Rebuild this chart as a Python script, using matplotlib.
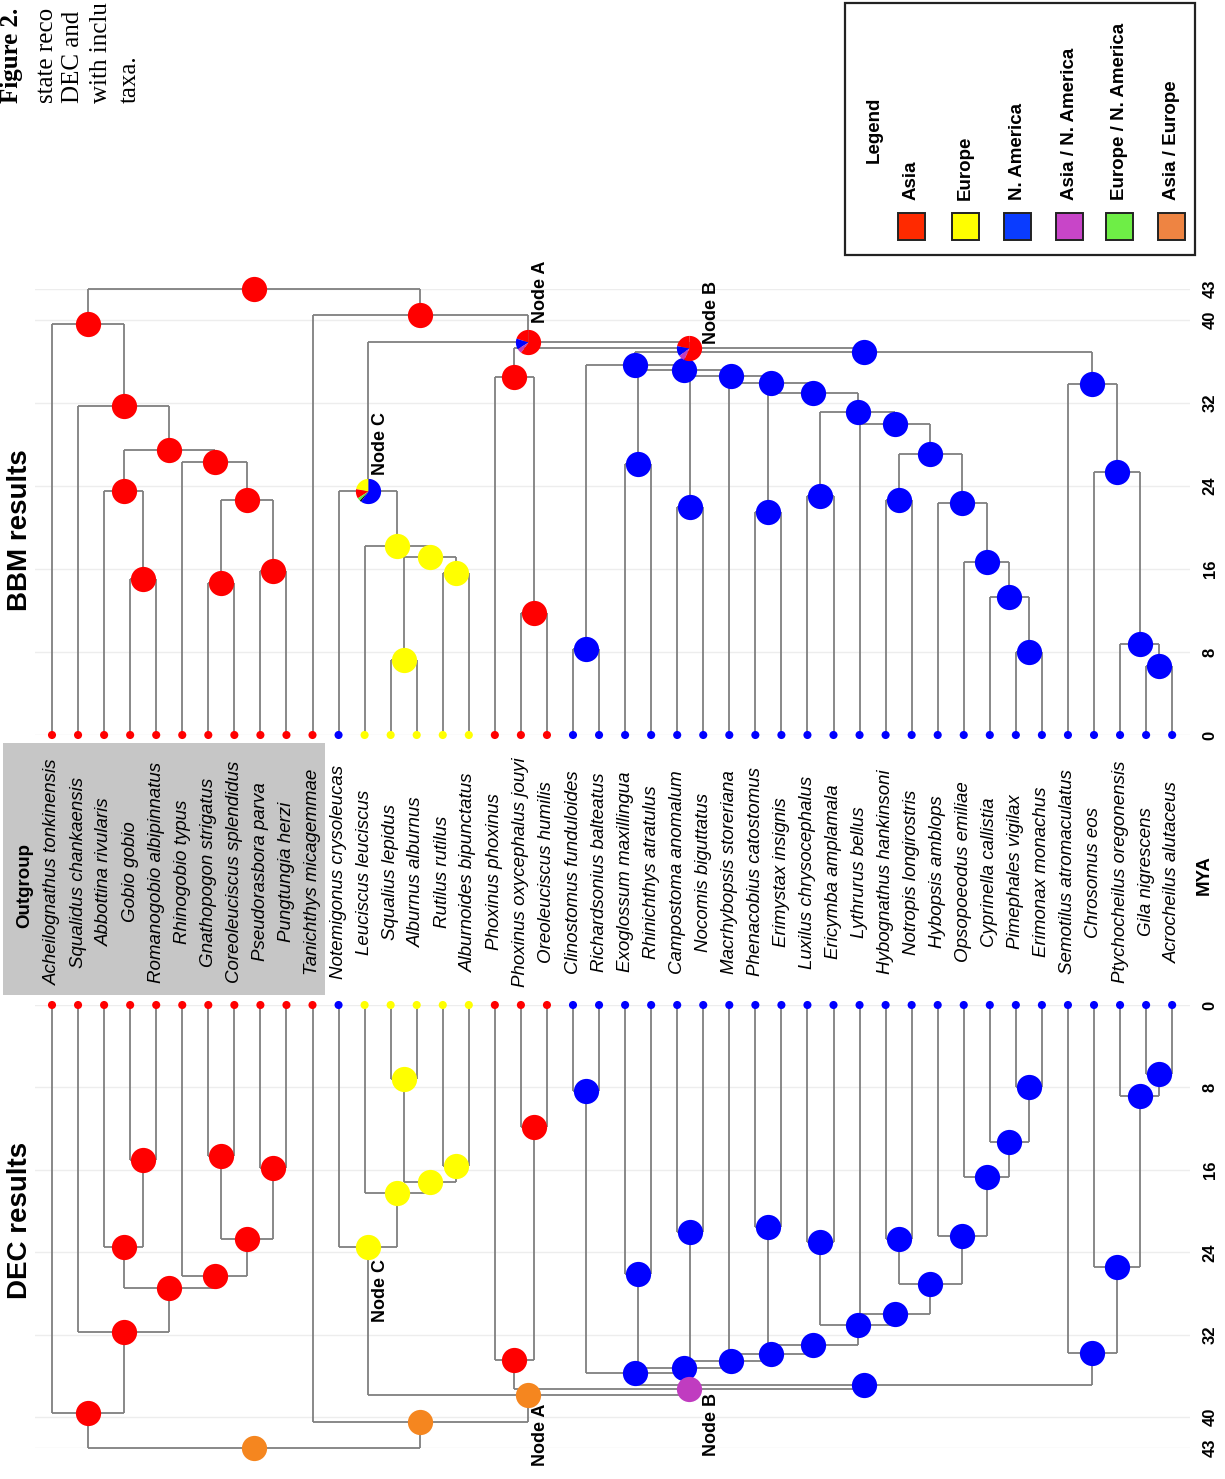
import matplotlib
matplotlib.use('Agg')
import matplotlib.pyplot as plt
import matplotlib.transforms as mtransforms
from matplotlib.patches import Rectangle
import numpy as np

W, H = 1225, 1479
TIP0 = 52        # px of the first tip
TIP_STEP = 26.05  # px between neighbouring tips

taxa = ['Acheilognathus tonkinensis', 'Squalidus chankaensis', 'Abbottina rivularis',
        'Gobio gobio', 'Romanogobio albipinnatus', 'Rhinogobio typus',
        'Gnathopogon strigatus', 'Coreoleuciscus splendidus', 'Pseudorasbora parva',
        'Pungtungia herzi', 'Tanichthys micagemmae', 'Notemigonus crysoleucas',
        'Leuciscus leuciscus', 'Squalius lepidus', 'Alburnus alburnus', 'Rutilus rutilus',
        'Alburnoides bipunctatus', 'Phoxinus phoxinus', 'Phoxinus oxycephalus jouyi',
        'Oreoleuciscus humilis', 'Clinostomus funduloides', 'Richardsonius balteatus',
        'Exoglossum maxillingua', 'Rhinichthys atratulus', 'Campostoma anomalum',
        'Nocomis biguttatus', 'Macrhybopsis storeriana', 'Phenacobius catostomus',
        'Erimystax insignis', 'Luxilus chrysocephalus', 'Ericymba amplamala',
        'Lythrurus bellus', 'Hybognathus hankinsoni', 'Notropis longirostris',
        'Hybopsis amblops', 'Opsopoeodus emiliae', 'Cyprinella callistia',
        'Pimephales vigilax', 'Erimonax monachus', 'Semotilus atromaculatus',
        'Chrosomus eos', 'Ptychocheilus oregonensis', 'Gila nigrescens',
        'Acrocheilus alutaceus']
tip_area = ['A'] * 11 + ['N'] + ['E'] * 5 + ['A'] * 3 + ['N'] * 24

# internal nodes (name, left child, right child); ints are tip indices
tree = [
    ('gob', 3, 4), ('abb', 2, 'gob'), ('gna', 6, 7), ('pse', 8, 9),
    ('gp', 'gna', 'pse'), ('rhi', 5, 'gp'), ('gobio', 'abb', 'rhi'),
    ('squ', 1, 'gobio'), ('out', 0, 'squ'),
    ('sa', 13, 14), ('ra', 15, 16), ('sr', 'sa', 'ra'), ('leu', 12, 'sr'),
    ('C', 11, 'leu'),
    ('oreo', 18, 19), ('phox', 17, 'oreo'),
    ('clin', 20, 21), ('exo', 22, 23), ('camp', 24, 25), ('phen', 27, 28),
    ('lux', 29, 30), ('hyb', 32, 33), ('pim', 37, 38), ('cyp', 36, 'pim'),
    ('ops', 35, 'cyp'), ('hbp', 34, 'ops'), ('hh', 'hyb', 'hbp'), ('lyt', 31, 'hh'),
    ('lx', 'lux', 'lyt'), ('ph2', 'phen', 'lx'), ('mac', 26, 'ph2'),
    ('cm', 'camp', 'mac'), ('ex2', 'exo', 'cm'), ('cl2', 'clin', 'ex2'),
    ('ga', 42, 43), ('pty', 41, 'ga'), ('chr', 40, 'pty'), ('sem', 39, 'chr'),
    ('na', 'cl2', 'sem'), ('B', 'phox', 'na'), ('A', 'C', 'B'),
    ('tan', 10, 'A'), ('root', 'out', 'tan'),
]

node_age = {
    'gob': 15.0, 'abb': 23.5, 'gna': 14.7, 'pse': 15.8, 'gp': 22.7, 'rhi': 26.3,
    'gobio': 27.5, 'squ': 31.7, 'out': 39.6,
    'sa': 7.2, 'ra': 15.6, 'sr': 17.2, 'leu': 18.2, 'C': 23.5,
    'oreo': 11.8, 'phox': 34.5,
    'clin': 8.3, 'exo': 26.1, 'camp': 22.0, 'phen': 21.5, 'lux': 23.0, 'hyb': 22.7,
    'pim': 8.0, 'cyp': 13.3, 'ops': 16.7, 'hbp': 22.4, 'hh': 27.1, 'lyt': 30.0,
    'lx': 31.1, 'ph2': 33.0, 'mac': 33.9, 'cm': 34.6, 'ex2': 35.2, 'cl2': 35.7,
    'ga': 6.7, 'pty': 8.8, 'chr': 25.4, 'sem': 33.8,
    'na': 36.9, 'B': 37.3, 'A': 37.9, 'tan': 40.5, 'root': 43.0,
}

outgroup_nodes = ['gob', 'abb', 'gna', 'pse', 'gp', 'rhi', 'gobio', 'squ', 'out']
europe_nodes = ['sa', 'ra', 'sr', 'leu']
phoxinus_nodes = ['oreo', 'phox']
america_nodes = ['clin', 'exo', 'camp', 'phen', 'lux', 'hyb', 'pim', 'cyp', 'ops', 'hbp',
                 'hh', 'lyt', 'lx', 'ph2', 'mac', 'cm', 'ex2', 'cl2', 'ga', 'pty', 'chr',
                 'sem', 'na']

bbm_area = {n: 'A' for n in outgroup_nodes + phoxinus_nodes + ['tan', 'root']}
bbm_area.update({n: 'E' for n in europe_nodes})
bbm_area.update({n: 'N' for n in america_nodes})

# mixed probabilities at the three labelled BBM nodes
bbm_pies = {
    'A': [('A', 0.20), ('N', 0.14), ('AN', 0.06), ('A', 0.60)],
    'B': [('A', 0.22), ('N', 0.13), ('AN', 0.08), ('A', 0.57)],
    'C': [('E', 0.22), ('A', 0.12), ('EN', 0.04), ('X', 0.02), ('N', 0.60)],
}

dec_area = {n: 'A' for n in outgroup_nodes + phoxinus_nodes}
dec_area.update({n: 'E' for n in europe_nodes + ['C']})
dec_area.update({n: 'N' for n in america_nodes})
dec_area.update({'A': 'AE', 'tan': 'AE', 'root': 'AE', 'B': 'AN'})

area_colour = {'A': '#FF0000', 'E': '#FFFF00', 'N': '#0000FF', 'AN': '#C03CC0',
               'EN': '#66EE44', 'AE': '#F5861F', 'X': '#000000'}

legend_labels = ['Asia', 'Europe', 'N. America', 'Asia / N. America',
                 'Europe / N. America', 'Asia / Europe']
legend_colours = ['#FF2A00', '#FFFF00', '#0A3CFF', '#C845C8', '#6EEE46', '#EE8442']

ticks = [0, 8, 16, 24, 32, 40, 43]

# node label offsets in px: (dx, dy away from the tips)
label_offset_bbm = {'A': (12, 19), 'B': (22, 4), 'C': (13, 16)}
label_offset_dec = {'A': (12, 8), 'B': (22, 4), 'C': (13, 12)}

LINE = '#7F7F7F'
SANS = ['Liberation Sans', 'DejaVu Sans']

# x position of every node (tips = index, internal = mean of children)
xpos = {}
for name, left, right in tree:
    xl = xpos[left] if isinstance(left, str) else float(left)
    xr = xpos[right] if isinstance(right, str) else float(right)
    xpos[name] = (xl + xr) / 2


def child_xy(c):
    if isinstance(c, str):
        return xpos[c], node_age[c]
    return float(c), 0.0


def draw_tree(ax, areas, pies, offsets, upward):
    for name, left, right in tree:
        age = node_age[name]
        xl, _ = child_xy(left)
        xr, _ = child_xy(right)
        ax.plot([xl, xr], [age, age], color=LINE, lw=1.3, zorder=1,
                solid_capstyle='butt', clip_on=False)
        for c in (left, right):
            cx, cy = child_xy(c)
            ax.plot([cx, cx], [cy, age], color=LINE, lw=1.3, zorder=1,
                    solid_capstyle='butt', clip_on=False)

    ax.scatter(np.arange(len(taxa)), np.zeros(len(taxa)),
               c=[area_colour[a] for a in tip_area], s=34, linewidths=0,
               zorder=3, clip_on=False)

    size = 330
    for name, _, _ in tree:
        x, y = xpos[name], node_age[name]
        if name in pies:
            start = 0.0
            for code, frac in pies[name]:
                th = np.pi / 2 + np.linspace(2 * np.pi * start, 2 * np.pi * (start + frac), 40)
                verts = np.column_stack([np.r_[0, np.cos(th), 0], np.r_[0, np.sin(th), 0]])
                m = np.abs(verts).max()
                ax.scatter([x], [y], marker=verts, s=size * m ** 2,
                           color=area_colour[code], linewidths=0, zorder=4, clip_on=False)
                start += frac
        else:
            ax.scatter([x], [y], s=size, color=area_colour[areas[name]],
                       linewidths=0, zorder=4, clip_on=False)

    for name, (dx, dy) in offsets.items():
        tr = mtransforms.offset_copy(ax.transData, fig=ax.figure, x=dx,
                                     y=dy if upward else -dy, units='dots')
        ax.text(xpos[name], node_age[name], 'Node ' + name, transform=tr,
                rotation=90, ha='center', va='bottom' if upward else 'top',
                fontsize=13, fontweight='bold', family=SANS, zorder=5)

    ax.set_xlim((35 - TIP0) / TIP_STEP, (1190 - TIP0) / TIP_STEP)
    ax.set_yticks(ticks)
    ax.set_yticklabels([str(t) for t in ticks], family=['Liberation Sans Narrow'] + SANS,
                       fontweight='bold', fontsize=12)
    ax.yaxis.tick_right()
    ax.tick_params(axis='y', length=0, pad=9, labelrotation=90)
    ax.set_xticks([])
    ax.grid(axis='y', color='#EDEDED', lw=1)
    ax.set_axisbelow(True)
    for s in ax.spines.values():
        s.set_visible(False)
    ax.patch.set_visible(False)


fig = plt.figure(figsize=(W / 100, H / 100), dpi=100)

ax_bbm = fig.add_axes([35 / W, 1 - 735 / H, (1190 - 35) / W, (735 - 289) / H])
ax_bbm.set_ylim(0, 43)
draw_tree(ax_bbm, bbm_area, bbm_pies, label_offset_bbm, True)

ax_dec = fig.add_axes([35 / W, 1 - 1448 / H, (1190 - 35) / W, (1448 - 1005) / H])
ax_dec.set_ylim(43, 0)
draw_tree(ax_dec, dec_area, {}, label_offset_dec, False)

for lab in ax_bbm.get_yticklabels() + ax_dec.get_yticklabels():
    lab.set_va('center')

# outgroup shading and tip names
fig.patches.append(Rectangle((3 / W, 1 - 995 / H), 322 / W, 252 / H,
                             transform=fig.transFigure, facecolor='#C6C6C6',
                             edgecolor='none', zorder=-5))
name_tr = mtransforms.blended_transform_factory(ax_bbm.transData, fig.transFigure)
for i, name in enumerate(taxa):
    ax_bbm.text(i, 1 - 872 / H, name, transform=name_tr, rotation=90,
                ha='center', va='center', fontsize=13.5, style='italic',
                family=SANS, clip_on=False)
fig.text(25 / W, 1 - 885 / H, 'Outgroup', rotation=90, ha='center', va='center',
         fontsize=13.5, fontweight='bold', family=SANS)
fig.text(1204 / W, 1 - 875 / H, 'MYA', rotation=90, ha='center', va='center',
         fontsize=13.5, fontweight='bold', family=SANS)

fig.text(20 / W, 1 - 530 / H, 'BBM results', rotation=90, ha='center', va='center',
         fontsize=20, fontweight='bold', family=SANS)
fig.text(20 / W, 1 - 1220 / H, 'DEC results', rotation=90, ha='center', va='center',
         fontsize=20, fontweight='bold', family=SANS)

# legend
fig.patches.append(Rectangle((845 / W, 1 - 255 / H), 350 / W, 252 / H,
                             transform=fig.transFigure, facecolor='none',
                             edgecolor='#222222', lw=1.6))
fig.text(874 / W, 1 - 130 / H, 'Legend', rotation=90, ha='center', va='center',
         fontsize=13.5, fontweight='bold', family=SANS)
legend_x = [911, 965.5, 1017.5, 1069.5, 1119.5, 1171]
for lx, lab, col in zip(legend_x, legend_labels, legend_colours):
    fig.patches.append(Rectangle(((lx - 13.5) / W, 1 - 240 / H), 27 / W, 27 / H,
                                 transform=fig.transFigure, facecolor=col,
                                 edgecolor='#222222', lw=1.4))
    fig.text(lx / W, 1 - 200 / H, lab, rotation=90, ha='center', va='bottom',
             fontsize=13.5, fontweight='bold', family=SANS)

# caption column running along the left page edge
caption = [('Figure 2.', 'bold', 18),
           ('state reco', 'normal', 53),
           ('DEC and', 'normal', 79),
           ('with inclu', 'normal', 107),
           ('taxa.', 'normal', 136)]
for txt, wt, bx in caption:
    fig.text(bx / W, 1 - 103 / H, txt, rotation=90, rotation_mode='anchor',
             ha='left', va='baseline', fontsize=18, fontweight=wt,
             family=['Liberation Serif', 'DejaVu Serif'])

fig.savefig('out.png', dpi=100)
